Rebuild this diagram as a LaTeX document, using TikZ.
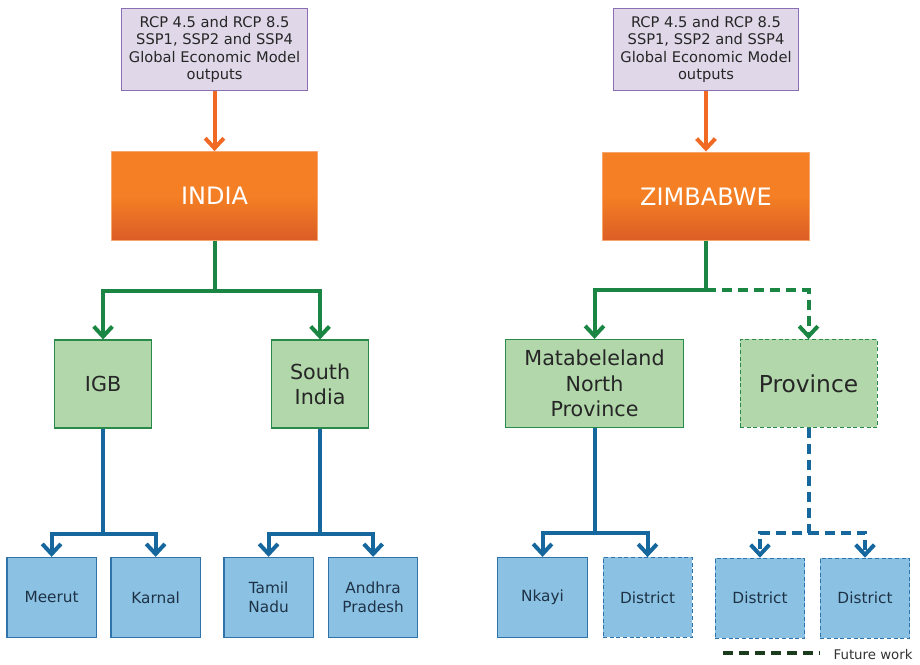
\documentclass[tikz,border=0pt]{standalone}
\usepackage{fontspec}
\setmainfont{DejaVu Sans}
\usetikzlibrary{arrows.meta}
\definecolor{inputFill}{HTML}{E0D8E9}
\definecolor{inputLine}{HTML}{8C6FB2}
\definecolor{countryTop}{HTML}{F47F24}
\definecolor{countryBot}{HTML}{DB5D26}
\definecolor{countryLine}{HTML}{F6A56C}
\definecolor{regionFill}{HTML}{B1D7AA}
\definecolor{regionLine}{HTML}{2A8A4A}
\definecolor{districtFill}{HTML}{8BC2E4}
\definecolor{districtLine}{HTML}{2F73A8}
\definecolor{districtText}{HTML}{1E3246}
\definecolor{orangeLine}{HTML}{F06A26}
\definecolor{greenLine}{HTML}{1B8543}
\definecolor{blueLine}{HTML}{16679E}
\definecolor{futureLine}{HTML}{1C3A1C}
\tikzstyle{hInput} = [rectangle, minimum width=139pt, minimum height=62pt, text centered, align=center, inner sep=1pt, draw=inputLine, line width=0.9pt, fill=inputFill, text=black!85, font=\fontsize{11}{12.8}\selectfont]
\tikzstyle{hCountry} = [rectangle, minimum width=155pt, minimum height=66.5pt, text centered, draw=countryLine, line width=0.8pt, top color=countryTop, bottom color=countryBot, middle color=countryTop, text=white, font=\fontsize{18}{20}\selectfont]
\tikzstyle{hRegion} = [rectangle, minimum width=73pt, minimum height=66pt, text centered, align=center, draw=regionLine, line width=0.9pt, fill=regionFill, text=black!85, font=\fontsize{15.5}{19}\selectfont]
\tikzstyle{hRegionFuture} = [hRegion, densely dashed, line width=0.5pt]
\tikzstyle{hDistrict} = [rectangle, minimum width=67pt, minimum height=60pt, text centered, align=center, draw=districtLine, line width=0.9pt, fill=districtFill, text=districtText, font=\fontsize{11.5}{14}\selectfont]
\tikzstyle{hDistrictFuture} = [hDistrict, densely dashed, line width=0.5pt]
\tikzstyle{hArrow} = [line width=3pt, -{Straight Barb[length=7.5pt,width=14pt]}]
\tikzstyle{hFuture} = [dash pattern=on 7.5pt off 4.5pt]
\begin{document}
\begin{tikzpicture}
    \useasboundingbox (0,0) rectangle (690pt,-498pt);

    % India side
    \node (inputL) [hInput] at (160.9pt,-37.1pt) {RCP 4.5 and RCP 8.5\\SSP1, SSP2 and SSP4\\Global Economic Model\\outputs};
    \node (india) [hCountry, node distance=109.9pt, below of=inputL] {INDIA};
    \node (igb) [hRegion, node distance=141pt, below of=india, xshift=-83.6pt] {IGB};
    \node (sindia) [hRegion, node distance=162.75pt, right of=igb] {South\\India};
    \node (meerut) [hDistrict, node distance=160.1pt, below of=igb, xshift=-38.6pt] {Meerut};
    \node (karnal) [hDistrict, node distance=78pt, right of=meerut] {Karnal};
    \node (tamil) [hDistrict, node distance=160.1pt, below of=sindia, xshift=-38.6pt] {Tamil\\Nadu};
    \node (andhra) [hDistrict, node distance=78.4pt, right of=tamil] {Andhra\\Pradesh};

    % Zimbabwe side
    \node (inputR) [hInput, node distance=368.6pt, right of=inputL] {RCP 4.5 and RCP 8.5\\SSP1, SSP2 and SSP4\\Global Economic Model\\outputs};
    \node (zim) [hCountry, node distance=110.2pt, below of=inputR] {ZIMBABWE};
    \node (mata) [hRegion, minimum width=133pt, node distance=140.3pt, below of=zim, xshift=-83.6pt] {Matabeleland\\North\\Province};
    \node (prov) [hRegionFuture, minimum width=103pt, font=\fontsize{17.5}{20}\selectfont, node distance=160.5pt, right of=mata] {Province};
    \node (nkayi) [hDistrict, node distance=160.5pt, below of=mata, xshift=-39pt] {Nkayi};
    \node (dist1) [hDistrictFuture, node distance=78.75pt, right of=nkayi] {District};
    \node (dist2) [hDistrictFuture, node distance=160.9pt, below of=prov, xshift=-36.4pt] {District};
    \node (dist3) [hDistrictFuture, node distance=78.75pt, right of=dist2] {District};

    \coordinate (indiaFork) at ([yshift=-37.5pt]india.south);
    \coordinate (igbFork) at ([yshift=-78.75pt]igb.south);
    \coordinate (sindiaFork) at ([yshift=-78.75pt]sindia.south);
    \coordinate (zimFork) at ([yshift=-36.75pt]zim.south);
    \coordinate (mataFork) at ([yshift=-78.75pt]mata.south);
    \coordinate (provFork) at ([yshift=-78.75pt]prov.south);

    \draw [hArrow, orangeLine] (inputL) -- (india);
    \draw [hArrow, orangeLine] (inputR) -- (zim);

    \draw [hArrow, greenLine] (india) -- (indiaFork) -| (igb);
    \draw [hArrow, greenLine] (indiaFork) -| (sindia);
    \draw [hArrow, greenLine] (zim) -- (zimFork) -| (mata);
    \draw [hArrow, greenLine, hFuture] (zimFork) -| (prov);

    \draw [hArrow, blueLine] (igb) -- (igbFork) -| (meerut);
    \draw [hArrow, blueLine] (igbFork) -| (karnal);
    \draw [hArrow, blueLine] (sindia) -- (sindiaFork) -| (tamil);
    \draw [hArrow, blueLine] (sindiaFork) -| (andhra);
    \draw [hArrow, blueLine] (mata) -- (mataFork) -| (nkayi);
    \draw [hArrow, blueLine] (mataFork) -| (dist1);
    \draw [hArrow, blueLine, hFuture] (prov) -- (provFork) -| (dist2);
    \draw [hArrow, blueLine, hFuture] (provFork) -| (dist3);

    % legend
    \coordinate (legendA) at (542.3pt,-489.8pt);
    \coordinate (legendB) at (615pt,-489.8pt);
    \draw [futureLine, line width=3pt, hFuture] (legendA) -- (legendB);
    \node (legendText) [anchor=west, text=black!80, font=\fontsize{10}{12}\selectfont, inner sep=0pt] at (625pt,-491pt) {Future work};
\end{tikzpicture}
\end{document}
